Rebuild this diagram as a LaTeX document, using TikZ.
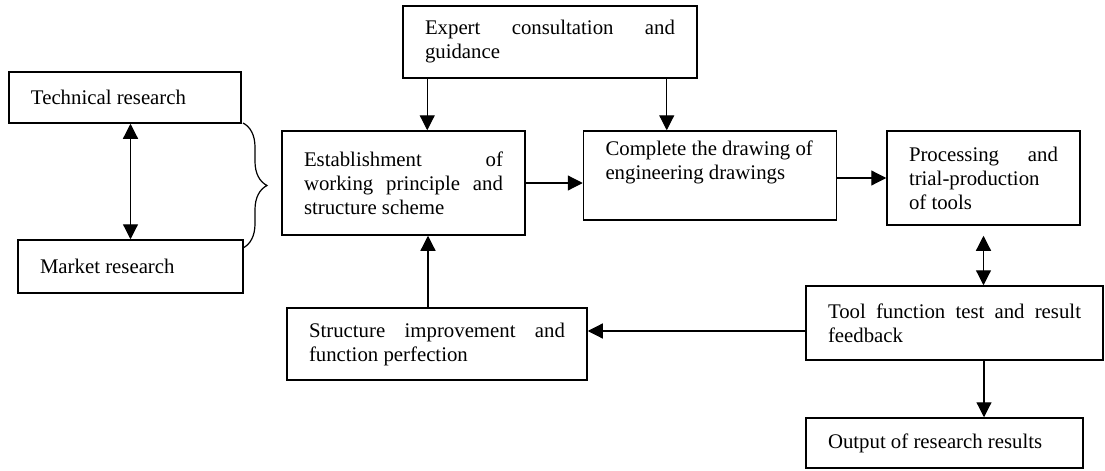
\documentclass[tikz,border=0pt]{standalone}
\usepackage{fontspec}
\setmainfont{Liberation Serif}
\usepackage{tikz}
\usetikzlibrary{positioning, calc}
\usetikzlibrary{arrows.meta}
\usetikzlibrary{decorations.pathreplacing}
\hyphenpenalty=10000
\tolerance=10000

\begin{document}
\begin{tikzpicture}[x=0.5pt,y=-0.5pt,>={Triangle[length=7.5pt,width=7.5pt]},line width=0.6pt]
	\tikzstyle{s-node}=[rectangle,draw=black!100,line width=0.75pt,inner xsep=11pt,inner ysep=2pt,align=justify,font=\fontsize{10.4}{12}\selectfont]
	\tikzstyle{link}=[->,draw=black!100]
	\tikzstyle{both}=[<->,draw=black!100]
	\useasboundingbox (0,0) rectangle (1105,471);

	% research
	\node[s-node,text width=94pt,minimum height=25.5pt] 	(tech)	at (125,97.5)	{Technical research};
	\node[s-node,text width=90.5pt,minimum height=26.5pt] 	(market)	at (130.5,266.5)	{Market research};

	% main line
	\node[s-node,text width=125pt,minimum height=36pt] 	(expert)	at (550,42)	{Expert consultation and\linebreak guidance};
	\node[s-node,text width=99.5pt,minimum height=52pt] 	(estab)	at (403.5,183)	{Establishment of\linebreak working principle and\linebreak structure scheme};
	\node[s-node,text width=104.5pt,minimum height=44.5pt] 	(complete)	at (710,175.5)	{Complete the drawing of\newline engineering drawings\par\strut};
	\node[s-node,text width=74.5pt,minimum height=47pt] 	(process)	at (983.5,178)	{Processing and\linebreak trial-production\newline of tools};

	% feedback
	\node[s-node,text width=126.5pt,minimum height=37pt] 	(tool)	at (954.5,323)	{Tool function test and result\linebreak feedback};
	\node[s-node,text width=128pt,minimum height=36pt] 	(struct)	at (437,344)	{Structure improvement and\linebreak function perfection};
	\node[s-node,text width=116.5pt,minimum height=25pt] 	(output)	at (944.5,443)	{Output of research results};

	% brace
	\coordinate (brace-top) at (243,123);
	\coordinate (brace-bot) at (243,248);
	\draw[decorate,decoration={brace,amplitude=12pt}] (brace-top) -- (brace-bot);

	% connectors
	\draw[both] (tech.south -| market.north) -- (market.north);
	\draw[link] ([xshift=12.5pt]expert.south west) -- ([xshift=12.5pt]expert.south west |- estab.north);
	\draw[link] ([xshift=-15.5pt]expert.south east) -- ([xshift=-15.5pt]expert.south east |- complete.north);
	\draw[link] (estab.east) -- (estab.east -| complete.west);
	\draw[link] (process.west -| complete.east) -- (process.west);
	\draw[both] ([yshift=-5pt]process.south) -- (process.south |- tool.north);
	\draw[link] ([yshift=-4pt]tool.west) -- ([yshift=-4pt]tool.west -| struct.east);
	\draw[link] ([xshift=-4.5pt]struct.north) -- ([xshift=-4.5pt]struct.north |- estab.south);
	\draw[link] ([xshift=14.75pt]tool.south) -- ([xshift=14.75pt]tool.south |- output.north);
\end{tikzpicture}
\end{document}
